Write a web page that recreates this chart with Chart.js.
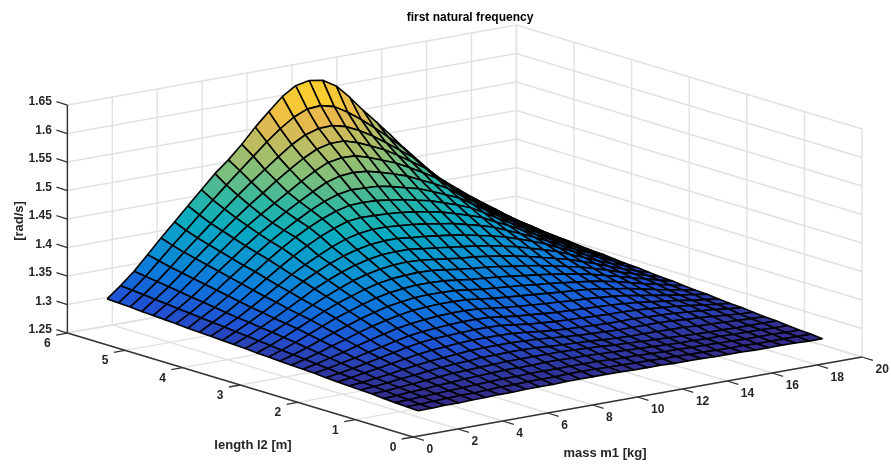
<!DOCTYPE html>
<html>
<head>
<meta charset="utf-8">
<title>first natural frequency</title>
<style>
  html, body { margin: 0; padding: 0; background: #fff; }
  canvas { display: block; }
</style>
<script src="https://cdn.jsdelivr.net/npm/chart.js@4/dist/chart.umd.min.js"></script>
</head>
<body>
<canvas id="surface" width="891" height="464"></canvas>
<script>
// axis ticks
const massTicks = [0, 2, 4, 6, 8, 10, 12, 14, 16, 18, 20];
const lengthTicks = [0, 1, 2, 3, 4, 5, 6];
const freqTicks = [1.25, 1.3, 1.35, 1.4, 1.45, 1.5, 1.55, 1.6, 1.65];
const freqLabels = ['1.25', '1.3', '1.35', '1.4', '1.45', '1.5', '1.55', '1.6', '1.65'];

// surface grid
const massM1 = [1, 1.6, 2.2, 2.8, 3.4, 4, 4.6, 5.2, 5.8, 6.4, 7, 7.6, 8.2, 8.8, 9.4, 10, 10.6, 11.2, 11.8, 12.4, 13, 13.6, 14.2, 14.8, 15.4, 16, 16.6, 17.2, 17.8, 18.4, 19];
const lengthL2 = [5.7, 5.5, 5.3, 5.1, 4.9, 4.7, 4.5, 4.3, 4.1, 3.9, 3.7, 3.5, 3.3, 3.1, 2.9, 2.7, 2.5, 2.3, 2.1, 1.9, 1.7, 1.5, 1.3, 1.1, 0.9, 0.7, 0.5, 0.3];

// frequency [rad/s], one row per length
const freq = [
  [1.312,1.331,1.352,1.377,1.402,1.426,1.450,1.474,1.498,1.518,1.541,1.567,1.590,1.612,1.627,1.632,1.628,1.614,1.590,1.563,1.538,1.512,1.485,1.457,1.433,1.414,1.396,1.378,1.360,1.342,1.325],
  [1.311,1.329,1.349,1.372,1.395,1.417,1.440,1.462,1.484,1.505,1.526,1.547,1.566,1.582,1.592,1.594,1.588,1.574,1.557,1.538,1.518,1.497,1.473,1.448,1.423,1.404,1.388,1.373,1.357,1.340,1.323],
  [1.310,1.327,1.346,1.367,1.389,1.410,1.431,1.452,1.472,1.491,1.509,1.527,1.544,1.557,1.564,1.565,1.559,1.548,1.534,1.518,1.501,1.484,1.461,1.437,1.414,1.397,1.382,1.368,1.352,1.337,1.322],
  [1.308,1.325,1.343,1.363,1.384,1.404,1.424,1.443,1.461,1.478,1.495,1.511,1.526,1.538,1.544,1.544,1.537,1.527,1.516,1.502,1.487,1.472,1.451,1.429,1.408,1.392,1.378,1.364,1.349,1.335,1.320],
  [1.307,1.323,1.340,1.359,1.379,1.398,1.417,1.435,1.451,1.466,1.481,1.496,1.510,1.521,1.525,1.524,1.517,1.508,1.499,1.487,1.474,1.460,1.441,1.422,1.403,1.388,1.374,1.360,1.346,1.332,1.318],
  [1.306,1.321,1.337,1.355,1.374,1.392,1.410,1.427,1.442,1.457,1.471,1.484,1.496,1.503,1.505,1.503,1.497,1.490,1.482,1.471,1.460,1.448,1.431,1.415,1.398,1.384,1.370,1.356,1.343,1.330,1.317],
  [1.305,1.319,1.334,1.351,1.369,1.386,1.404,1.420,1.435,1.449,1.462,1.473,1.481,1.485,1.484,1.483,1.478,1.472,1.466,1.457,1.447,1.437,1.422,1.407,1.392,1.379,1.365,1.352,1.340,1.327,1.315],
  [1.303,1.317,1.331,1.347,1.364,1.381,1.398,1.414,1.429,1.442,1.453,1.462,1.468,1.469,1.468,1.465,1.461,1.456,1.451,1.443,1.435,1.426,1.413,1.399,1.386,1.373,1.361,1.348,1.336,1.325,1.313],
  [1.302,1.315,1.328,1.343,1.359,1.375,1.391,1.406,1.420,1.432,1.442,1.450,1.453,1.452,1.451,1.449,1.446,1.442,1.437,1.430,1.423,1.415,1.403,1.392,1.380,1.368,1.356,1.344,1.333,1.322,1.312],
  [1.301,1.313,1.325,1.339,1.354,1.369,1.384,1.397,1.409,1.420,1.429,1.435,1.438,1.438,1.436,1.434,1.431,1.427,1.423,1.417,1.411,1.404,1.394,1.384,1.374,1.363,1.351,1.340,1.330,1.320,1.310],
  [1.300,1.311,1.323,1.336,1.350,1.364,1.378,1.390,1.401,1.410,1.417,1.422,1.424,1.424,1.421,1.419,1.416,1.413,1.409,1.404,1.399,1.393,1.385,1.377,1.368,1.357,1.347,1.336,1.327,1.317,1.308],
  [1.299,1.309,1.320,1.332,1.345,1.358,1.371,1.382,1.392,1.400,1.406,1.410,1.411,1.411,1.408,1.405,1.402,1.399,1.396,1.392,1.387,1.382,1.375,1.368,1.361,1.351,1.342,1.332,1.323,1.315,1.307],
  [1.298,1.307,1.318,1.329,1.341,1.353,1.364,1.374,1.383,1.390,1.395,1.398,1.399,1.398,1.395,1.392,1.389,1.387,1.384,1.380,1.376,1.371,1.365,1.359,1.353,1.345,1.337,1.328,1.320,1.312,1.305],
  [1.296,1.305,1.315,1.326,1.337,1.348,1.358,1.366,1.374,1.380,1.384,1.386,1.387,1.386,1.383,1.380,1.377,1.375,1.372,1.368,1.365,1.361,1.356,1.351,1.346,1.339,1.332,1.324,1.317,1.310,1.303],
  [1.295,1.303,1.312,1.322,1.332,1.342,1.350,1.358,1.365,1.370,1.373,1.375,1.375,1.374,1.371,1.368,1.366,1.364,1.361,1.358,1.355,1.352,1.348,1.344,1.339,1.333,1.327,1.320,1.314,1.308,1.302],
  [1.294,1.301,1.309,1.318,1.327,1.335,1.343,1.350,1.356,1.360,1.363,1.364,1.364,1.363,1.360,1.357,1.355,1.353,1.351,1.348,1.346,1.343,1.340,1.337,1.333,1.328,1.322,1.316,1.311,1.305,1.300],
  [1.293,1.299,1.306,1.314,1.321,1.329,1.336,1.342,1.347,1.351,1.353,1.354,1.354,1.353,1.350,1.347,1.345,1.343,1.341,1.339,1.337,1.335,1.333,1.330,1.326,1.322,1.317,1.312,1.307,1.303,1.298],
  [1.292,1.297,1.303,1.309,1.316,1.322,1.328,1.334,1.338,1.341,1.343,1.344,1.344,1.343,1.340,1.337,1.335,1.333,1.331,1.330,1.328,1.327,1.325,1.323,1.320,1.316,1.312,1.308,1.304,1.301,1.297],
  [1.291,1.295,1.300,1.305,1.311,1.316,1.322,1.327,1.330,1.332,1.334,1.335,1.335,1.334,1.331,1.328,1.326,1.324,1.322,1.321,1.320,1.319,1.318,1.316,1.314,1.311,1.308,1.305,1.301,1.298,1.295],
  [1.289,1.293,1.297,1.302,1.307,1.312,1.317,1.321,1.324,1.325,1.326,1.327,1.327,1.326,1.323,1.320,1.318,1.316,1.315,1.314,1.313,1.312,1.312,1.311,1.309,1.307,1.305,1.302,1.299,1.296,1.293],
  [1.288,1.291,1.295,1.299,1.303,1.307,1.311,1.314,1.316,1.318,1.319,1.319,1.319,1.318,1.316,1.313,1.311,1.309,1.308,1.307,1.306,1.306,1.306,1.305,1.304,1.303,1.301,1.299,1.297,1.294,1.292],
  [1.287,1.289,1.292,1.295,1.299,1.302,1.305,1.307,1.309,1.311,1.312,1.312,1.312,1.311,1.310,1.308,1.306,1.304,1.303,1.302,1.301,1.301,1.301,1.301,1.300,1.298,1.297,1.295,1.293,1.291,1.290],
  [1.286,1.288,1.290,1.293,1.295,1.298,1.300,1.302,1.303,1.305,1.305,1.306,1.306,1.305,1.303,1.302,1.301,1.300,1.298,1.297,1.296,1.296,1.296,1.295,1.295,1.293,1.292,1.291,1.290,1.289,1.288],
  [1.285,1.286,1.288,1.290,1.292,1.294,1.296,1.297,1.298,1.299,1.300,1.300,1.300,1.300,1.300,1.299,1.298,1.297,1.295,1.294,1.293,1.292,1.291,1.290,1.289,1.288,1.288,1.287,1.287,1.287,1.287],
  [1.283,1.284,1.286,1.287,1.289,1.290,1.292,1.293,1.294,1.295,1.295,1.295,1.296,1.296,1.295,1.295,1.294,1.293,1.292,1.291,1.290,1.289,1.288,1.288,1.287,1.287,1.286,1.286,1.286,1.285,1.285],
  [1.282,1.283,1.284,1.285,1.286,1.287,1.288,1.289,1.290,1.290,1.291,1.291,1.291,1.291,1.291,1.291,1.290,1.289,1.289,1.288,1.287,1.287,1.286,1.286,1.285,1.285,1.284,1.284,1.284,1.283,1.283],
  [1.281,1.281,1.282,1.283,1.284,1.284,1.285,1.286,1.286,1.287,1.287,1.287,1.288,1.288,1.288,1.287,1.287,1.286,1.286,1.285,1.285,1.284,1.284,1.283,1.283,1.283,1.282,1.282,1.282,1.282,1.282],
  [1.280,1.280,1.281,1.281,1.282,1.282,1.283,1.283,1.284,1.284,1.284,1.285,1.285,1.285,1.285,1.285,1.284,1.284,1.284,1.283,1.283,1.283,1.282,1.282,1.282,1.281,1.281,1.281,1.281,1.280,1.280]
];

// parula colormap stops
const parula = [[53,42,135],[32,83,212],[13,117,220],[12,147,210],[7,169,194],[46,183,164],[124,191,123],[183,189,100],[233,185,78],[252,206,46],[249,251,14]];

// 3D view -> chart coordinates
const massMax = 20, lengthMax = 6, freqMin = 1.25, freqMax = 1.65;
function project(m, l, z) {
  return {
    x: 413 + 22.45 * m - 57.6 * l,
    y: 437 - 4 * m - 17.33 * l - 570 * (z - freqMin)
  };
}

function colorFor(z) {
  const lo = 1.28, hi = 1.65;
  let t = (z - lo) / (hi - lo) * (parula.length - 1);
  t = Math.max(0, Math.min(parula.length - 1.001, t));
  const i = Math.floor(t), f = t - i;
  const a = parula[i], b = parula[i + 1];
  return `rgb(${a[0] + (b[0] - a[0]) * f},${a[1] + (b[1] - a[1]) * f},${a[2] + (b[2] - a[2]) * f})`;
}

function line(points, color, width) {
  return { data: points, showLine: true, fill: false, borderColor: color, borderWidth: width, pointRadius: 0, clip: false };
}

const datasets = [];

// first dataset ends up on top, so nearest cells go first
for (let r = lengthL2.length - 2; r >= 0; r--) {
  for (let c = 0; c < massM1.length - 1; c++) {
    const l0 = lengthL2[r], l1 = lengthL2[r + 1], m0 = massM1[c], m1 = massM1[c + 1];
    const z00 = freq[r][c], z01 = freq[r][c + 1], z10 = freq[r + 1][c], z11 = freq[r + 1][c + 1];
    datasets.push({
      data: [project(m0, l0, z00), project(m1, l0, z01), project(m1, l1, z11), project(m0, l1, z10), project(m0, l0, z00)],
      showLine: true,
      fill: 'shape',
      backgroundColor: colorFor((z00 + z01 + z10 + z11) / 4),
      borderColor: '#000',
      borderWidth: 1.6,
      borderJoinStyle: 'round',
      pointRadius: 0,
      tension: 0,
      clip: false
    });
  }
}

// axis lines and ticks
const axisColor = '#333', gridColor = '#e1e1e1';
datasets.push(line([project(0, lengthMax, freqMin), project(0, 0, freqMin), project(massMax, 0, freqMin)], axisColor, 1.4));
datasets.push(line([project(0, lengthMax, freqMin), project(0, lengthMax, freqMax)], axisColor, 1.4));
massTicks.forEach(m => datasets.push(line([project(m, 0, freqMin), project(m, -0.19, freqMin)], axisColor, 1.3)));
lengthTicks.forEach(l => datasets.push(line([project(0, l, freqMin), project(-0.5, l, freqMin)], axisColor, 1.3)));
freqTicks.forEach(z => datasets.push(line([project(0, lengthMax, z), project(0, lengthMax + 0.19, z)], axisColor, 1.3)));

// back walls and floor
massTicks.forEach(m => {
  datasets.push(line([project(m, 0, freqMin), project(m, lengthMax, freqMin), project(m, lengthMax, freqMax)], gridColor, 1.4));
});
lengthTicks.forEach(l => {
  datasets.push(line([project(0, l, freqMin), project(massMax, l, freqMin), project(massMax, l, freqMax)], gridColor, 1.4));
});
freqTicks.forEach(z => {
  datasets.push(line([project(0, lengthMax, z), project(massMax, lengthMax, z), project(massMax, 0, z)], gridColor, 1.4));
});

// tick labels and axis titles, the scales are hidden
const axisText = {
  id: 'axisText',
  afterDraw(chart) {
    const ctx = chart.ctx;
    const sx = chart.scales.x, sy = chart.scales.y;
    const put = (text, p, dx, dy, align) => {
      ctx.textAlign = align;
      ctx.fillText(text, sx.getPixelForValue(p.x) + dx, sy.getPixelForValue(p.y) + dy);
    };
    ctx.save();
    ctx.fillStyle = '#262626';
    ctx.textBaseline = 'middle';
    ctx.font = 'bold 12px "Liberation Sans"';
    massTicks.forEach(m => put(String(m), project(m, 0, freqMin), 13.5, 13, 'left'));
    lengthTicks.forEach(l => put(String(l), project(0, l, freqMin), -20, 10.7, 'center'));
    freqTicks.forEach((z, i) => put(freqLabels[i], project(0, lengthMax, z), -15.5, -3, 'right'));
    ctx.font = 'bold 13px "Liberation Sans"';
    ctx.textAlign = 'center';
    ctx.fillText('length l2 [m]', 253, 445);
    ctx.fillText('mass m1 [kg]', 605, 453);
    ctx.translate(19, 221);
    ctx.rotate(-Math.PI / 2);
    ctx.fillText('[rad/s]', 0, 0);
    ctx.restore();
  }
};

new Chart(document.getElementById('surface').getContext('2d'), {
  type: 'scatter',
  data: { datasets: datasets },
  plugins: [axisText],
  options: {
    responsive: false,
    animation: false,
    layout: { padding: { left: 49, top: 0, right: 0, bottom: 0 } },
    elements: { line: { tension: 0 } },
    scales: {
      x: { type: 'linear', display: false, min: 49, max: 891 },
      y: { type: 'linear', display: false, reverse: true, min: 24.4, max: 464 }
    },
    plugins: {
      legend: { display: false },
      tooltip: { enabled: false },
      title: {
        display: true,
        text: 'first natural frequency',
        fullSize: false,
        color: '#000',
        padding: { top: 10, bottom: 0 },
        font: { family: '"Liberation Sans"', size: 12, weight: 'bold' }
      }
    }
  }
});
</script>
</body>
</html>
